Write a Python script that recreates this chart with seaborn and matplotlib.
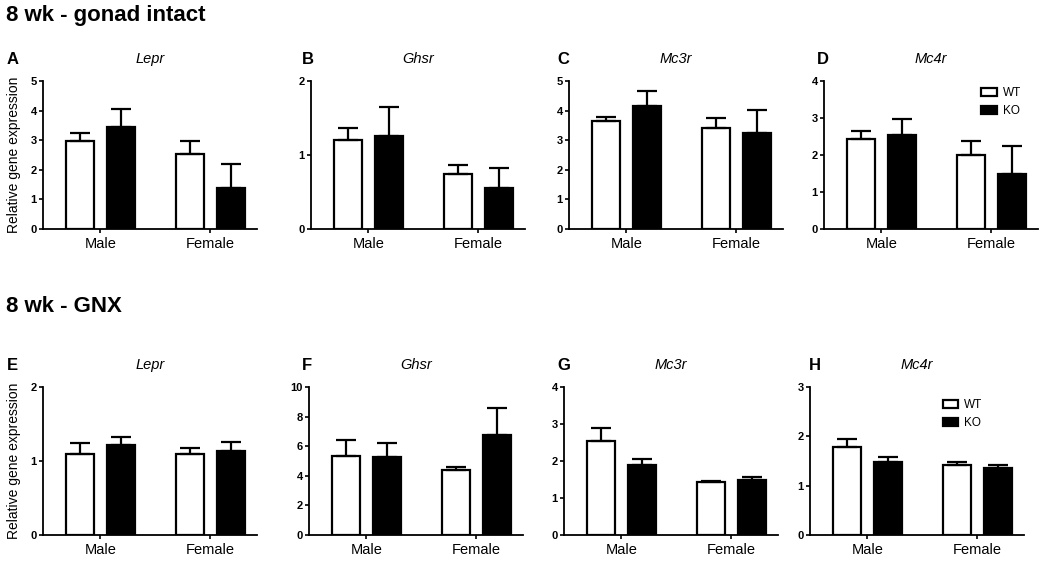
import matplotlib
matplotlib.use("Agg")
import matplotlib.pyplot as plt
import seaborn as sns
import pandas as pd
import numpy as np

# group labels
sexes = ['Male', 'Female']
genotypes = ['WT', 'KO']

# panel info (letter, gene, y max, y tick step)
letters_top = ['A', 'B', 'C', 'D']
letters_bot = ['E', 'F', 'G', 'H']
genes = ['Lepr', 'Ghsr', 'Mc3r', 'Mc4r']
ymax_top = [5, 2, 5, 4]
ystep_top = [1, 1, 1, 1]
ymax_bot = [2, 10, 4, 3]
ystep_bot = [1, 2, 1, 1]

# 8 wk - gonad intact: means [Male, Female] and top of error bars
intact_wt = [[2.97, 2.52], [1.20, 0.74], [3.65, 3.42], [2.44, 2.01]]
intact_wt_top = [[3.23, 2.97], [1.37, 0.87], [3.79, 3.76], [2.65, 2.37]]
intact_ko = [[3.45, 1.37], [1.26, 0.55], [4.15, 3.26], [2.54, 1.50]]
intact_ko_top = [[4.04, 2.19], [1.65, 0.83], [4.65, 4.01], [2.96, 2.24]]

# 8 wk - GNX
gnx_wt = [[1.10, 1.09], [5.33, 4.38], [2.55, 1.42], [1.78, 1.42]]
gnx_wt_top = [[1.24, 1.18], [6.39, 4.58], [2.89, 1.47], [1.94, 1.47]]
gnx_ko = [[1.21, 1.14], [5.26, 6.73], [1.88, 1.49], [1.47, 1.35]]
gnx_ko_top = [[1.33, 1.26], [6.21, 8.60], [2.06, 1.56], [1.58, 1.42]]

sns.set_style('ticks')
plt.rcParams['font.family'] = ['Liberation Sans', 'DejaVu Sans']
plt.rcParams['text.color'] = 'black'
plt.rcParams['axes.labelcolor'] = 'black'
plt.rcParams['xtick.color'] = 'black'
plt.rcParams['ytick.color'] = 'black'
plt.rcParams['axes.edgecolor'] = 'black'

W, H = 1050, 561
fig = plt.figure(figsize=(W / 100, H / 100), dpi=100)


def px_axes(left, top, width, height):
    return fig.add_axes([left / W, 1 - (top + height) / H, width / W, height / H])


def draw_panel(ax, wt, wt_top, ko, ko_top, gene, ymax, ystep, show_ylabel, show_legend):
    df = pd.DataFrame({
        'sex': sexes * 2,
        'genotype': ['WT'] * 2 + ['KO'] * 2,
        'value': list(wt) + list(ko),
    })
    sns.barplot(data=df, x='sex', y='value', hue='genotype',
                order=sexes, hue_order=genotypes,
                palette={'WT': 'white', 'KO': 'black'},
                edgecolor='black', linewidth=1.6,
                width=0.75, gap=0.32, errorbar=None,
                legend=show_legend, ax=ax)

    # error bars (upper only)
    tops = [wt_top, ko_top]
    means = [wt, ko]
    bar_conts = list(ax.containers)
    for i, cont in enumerate(bar_conts):
        xs = [b.get_x() + b.get_width() / 2 for b in cont]
        m = np.array(means[i])
        e = np.array(tops[i]) - m
        ax.errorbar(xs, m, yerr=[np.zeros_like(e), e], fmt='none',
                    ecolor='black', elinewidth=1.6, capsize=7, capthick=1.6,
                    zorder=3)

    ax.set_xlim(-0.52, 1.425)
    ax.set_ylim(0, ymax)
    ax.set_yticks(np.arange(0, ymax + ystep / 2, ystep))
    sns.despine(ax=ax)
    for s in ['left', 'bottom']:
        ax.spines[s].set_linewidth(1.3)
    ax.tick_params(axis='y', length=3, width=1.2, pad=1.5, labelsize=8)
    ax.tick_params(axis='x', length=3, width=1.2, pad=3, labelsize=10.5)
    for lab in ax.get_yticklabels():
        lab.set_fontweight('bold')
    ax.set_xlabel('')
    if show_ylabel:
        ax.set_ylabel('Relative gene expression', fontsize=10, labelpad=7)
    else:
        ax.set_ylabel('')
    ax.set_title(gene, fontsize=10.5, style='italic', pad=13)
    if show_legend:
        handles, labels = ax.get_legend_handles_labels()
        ax.legend(handles, labels, loc='upper right', frameon=False,
                  fontsize=8.5, handlelength=1.3, handleheight=0.6,
                  handletextpad=0.5, labelspacing=0.5,
                  bbox_to_anchor=(0.97, 1.03))


lefts_top = [43, 311, 569, 824]
lefts_bot = [43, 309, 564, 810]
letter_x_top = [7, 302, 557, 817]
letter_x_bot = [7, 302, 557, 809]
aw, ah = 214, 148

for i in range(4):
    ax = px_axes(lefts_top[i], 81, aw, ah)
    draw_panel(ax, intact_wt[i], intact_wt_top[i], intact_ko[i], intact_ko_top[i],
               genes[i], ymax_top[i], ystep_top[i], i == 0, i == 3)
    fig.text(letter_x_top[i] / W, 1 - 59 / H, letters_top[i], fontsize=12,
             fontweight='bold', va='center', ha='left')
    ax = px_axes(lefts_bot[i], 387, aw, ah)
    draw_panel(ax, gnx_wt[i], gnx_wt_top[i], gnx_ko[i], gnx_ko_top[i],
               genes[i], ymax_bot[i], ystep_bot[i], i == 0, i == 3)
    fig.text(letter_x_bot[i] / W, 1 - 366 / H, letters_bot[i], fontsize=12,
             fontweight='bold', va='center', ha='left')
    if i == 3:
        ax.get_legend().set_bbox_to_anchor((0.855, 0.99))

fig.text(6 / W, 1 - 15 / H, '8 wk - gonad intact', fontsize=16, fontweight='bold',
         va='center', ha='left')
fig.text(6 / W, 1 - 306 / H, '8 wk - GNX', fontsize=16, fontweight='bold',
         va='center', ha='left')

fig.savefig('out.png', dpi=100)
